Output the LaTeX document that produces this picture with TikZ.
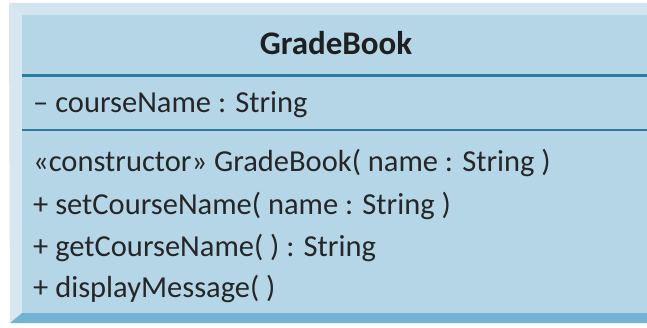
\documentclass[tikz,border=0pt]{standalone}
\usepackage{fontspec}
\setmainfont{Carlito}
\begin{document}
\begin{tikzpicture}[x=1pt,y=-1pt,
  member/.style={anchor=base west,inner sep=0pt,text=black!85,font=\fontsize{30.5}{36}\selectfont},
  title/.style={anchor=base,inner sep=0pt,text=black!88,font=\fontsize{33}{38}\selectfont\bfseries},
  divider/.style={draw=divcol,line width=2.6pt}]
\definecolor{facecol}{HTML}{B4D6E7}
\definecolor{lightbev}{HTML}{D2E4EE}
\definecolor{darkbev}{HTML}{72B2D2}
\definecolor{divcol}{HTML}{2A7C9C}
\useasboundingbox (0,0) rectangle (647,328);
\fill[white] (0,0) rectangle (647,328);
% bevels
\fill[lightbev] (9,3) -- (647,3) -- (647,15) -- (22,15) -- cycle;
\fill[lightbev!90!white] (9,3) -- (22,15) -- (22,313) -- (10,323) -- cycle;
\fill[darkbev] (22,313) -- (647,313) -- (647,323) -- (10,323) -- cycle;
\fill[facecol] (22,15) rectangle (647,313);
% dividers
\coordinate (d1l) at (22,75.5); \coordinate (d1r) at (647,75.5);
\coordinate (d2l) at (22,130); \coordinate (d2r) at (647,130);
\draw[divider] (d1l) -- (d1r);
\draw[divider] (d2l) -- (d2r);
% texts
\node[title] (name) at (336,55) {GradeBook};
\node[member] (attr) at (33,113) {– courseName : String};
\node[member] (m1) at (33,172) {«constructor» GradeBook( name : String )};
\node[member] (m2) at (33,215) {+ setCourseName( name : String )};
\node[member] (m3) at (33,257) {+ getCourseName( ) : String};
\node[member] (m4) at (33,298) {+ displayMessage( )};
\end{tikzpicture}
\end{document}
